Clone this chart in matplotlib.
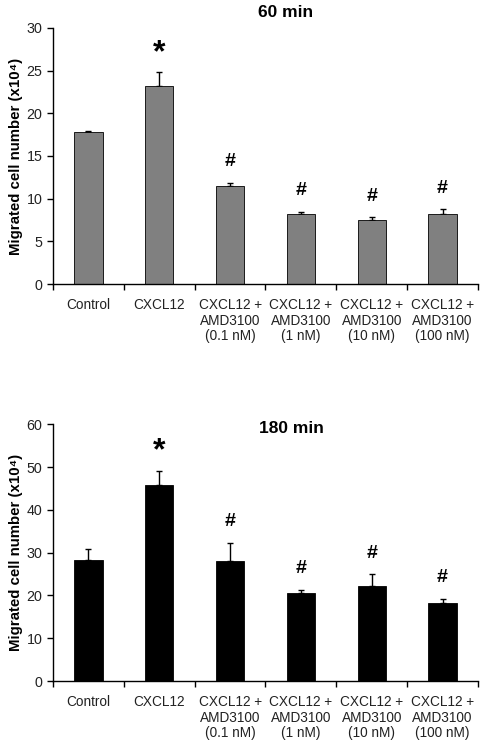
import matplotlib
matplotlib.use("Agg")
import matplotlib.pyplot as plt
import numpy as np

plt.rcParams['font.family'] = ['Liberation Sans', 'DejaVu Sans']

categories = ["Control", "CXCL12", "CXCL12 +\nAMD3100\n(0.1 nM)", "CXCL12 +\nAMD3100\n(1 nM)",
              "CXCL12 +\nAMD3100\n(10 nM)", "CXCL12 +\nAMD3100\n(100 nM)"]
vals_60 = [17.8, 23.2, 11.5, 8.25, 7.5, 8.25]
err_60 = [0.15, 1.6, 0.35, 0.2, 0.35, 0.5]
vals_180 = [28.3, 45.8, 28.0, 20.5, 22.3, 18.2]
err_180 = [2.6, 3.3, 4.3, 0.8, 2.6, 1.0]
marks = ["", "*", "#", "#", "#", "#"]

fig = plt.figure(figsize=(4.87, 7.46), dpi=100)

def draw(ax, vals, errs, color, ymax, title, title_x, title_y):
    x = np.arange(len(categories))
    ax.bar(x, vals, width=0.40, color=color, edgecolor='black', linewidth=0.6, zorder=2)
    ax.errorbar(x, vals, yerr=[np.zeros(len(errs)), errs], fmt='none', ecolor='black',
                elinewidth=1.0, capsize=2.5, capthick=1.0, zorder=1)
    ax.set_xlim(-0.5, len(categories) - 0.5)
    ax.set_ylim(0, ymax)
    ax.spines['top'].set_visible(False)
    ax.spines['right'].set_visible(False)
    ax.spines['left'].set_linewidth(1.0)
    ax.spines['bottom'].set_linewidth(1.0)
    ax.set_xticks(x)
    ax.set_xticklabels(categories, fontsize=9.8, color='#222222', linespacing=1.15)
    ax.tick_params(axis='x', which='major', length=0, pad=10)
    ax.set_xticks(np.arange(-0.5, len(categories)), minor=True)
    ax.tick_params(axis='x', which='minor', length=4, width=1.0, direction='out')
    ax.tick_params(axis='y', length=4, width=1.0, direction='out', labelsize=10.3, labelcolor='#222222')
    ax.set_yticks(np.arange(0, ymax + 1, ymax // 6))
    ax.set_ylabel("Migrated cell number (x10\u2074)", fontsize=10.8, fontweight='bold', labelpad=3)
    ax.text(title_x, title_y, title, transform=ax.transAxes, ha='center', va='center',
            fontsize=12.5, fontweight='bold')
    for xi, v, e, m in zip(x, vals, errs, marks):
        if m == '#':
            ax.annotate(m, (xi, v + e), xytext=(0, 9), textcoords='offset points',
                        ha='center', va='bottom', fontsize=14, fontweight='bold')
        elif m:
            ax.annotate(m, (xi, v + e), xytext=(0, 14), textcoords='offset points',
                        ha='center', va='center', fontsize=23, fontweight='bold')

ax1 = fig.add_axes([0.1088, 0.6193, 0.8727, 0.3432])
draw(ax1, vals_60, err_60, '#808080', 30, "60 min", 0.548, 1.06)

ax2 = fig.add_axes([0.1088, 0.0871, 0.8727, 0.3441])
draw(ax2, vals_180, err_180, 'black', 60, "180 min", 0.56, 0.985)

fig.savefig("out.png", dpi=100)
